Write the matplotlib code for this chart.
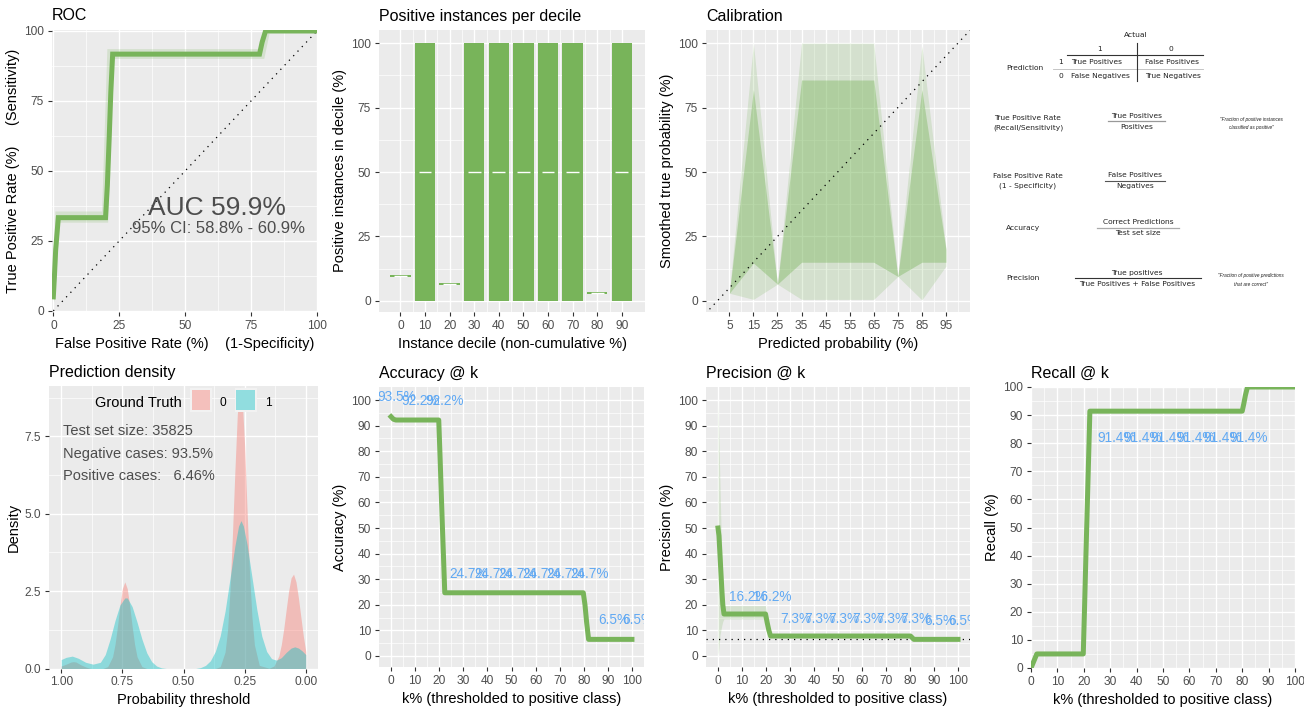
import numpy as np
import matplotlib
matplotlib.use("Agg")
import matplotlib.pyplot as plt
from matplotlib.patches import Rectangle

plt.rcParams['font.family'] = ['Liberation Sans', 'DejaVu Sans']

W, H = 1304, 713
GREEN = '#78B45A'
LABEL_BLUE = '#61A9F3'
PINK = '#F8766D'
CYAN = '#00BFC4'

# ---- data ----
# ROC
roc_fpr = [0, 0.4, 0.9, 1.9, 19.8, 20.5, 21.2, 21.8, 22.5, 78.2, 79.2, 80.5, 100]
roc_tpr = [5, 12, 22, 33.3, 33.3, 45, 62, 78, 91.7, 91.7, 96, 100, 100]
roc_ci_up_fpr = [0, 0.8, 18.5, 20.5, 78.0, 80.0, 100]
roc_ci_up_tpr = [6, 35.5, 35.5, 93.5, 93.5, 100.5, 100.5]
roc_ci_lo_fpr = [0.5, 2.5, 20.8, 22.8, 80.0, 82.0, 100]
roc_ci_lo_tpr = [3, 31.5, 31.5, 90.0, 90.0, 99.0, 99.0]
auc_text = "AUC 59.9%"
auc_ci_text = "95% CI: 58.8% - 60.9%"

# positive instances per decile
deciles = [0, 10, 20, 30, 40, 50, 60, 70, 80, 90]
box_low = [9.3, 0, 6.1, 0, 0, 0, 0, 0, 2.6, 0]
box_high = [10.1, 100, 6.9, 100, 100, 100, 100, 100, 3.4, 100]
box_mid = [9.7, 50, 6.5, 50, 50, 50, 50, 50, 3.0, 50]

# calibration
cal_x = [5, 15, 25, 35, 45, 55, 65, 75, 85, 95]
cal_outer_lo = [3, 0.6, 6.5, 0.6, 0.6, 0.6, 0.6, 9.5, 0.4, 13.5]
cal_outer_hi = [3, 100, 6.5, 100, 100, 100, 100, 9.5, 99, 20.5]
cal_inner_lo = [3, 14.7, 6.5, 15, 15, 15, 15, 9.5, 15, 15]
cal_inner_hi = [3, 82, 6.5, 85.7, 85.7, 85.7, 85.7, 9.5, 82, 20]

# prediction density
dens0_x = [0.00, 0.01, 0.02, 0.03, 0.04, 0.05, 0.06, 0.07, 0.08, 0.09, 0.10, 0.11, 0.13, 0.15,
           0.19, 0.21, 0.22, 0.23, 0.24, 0.25, 0.26, 0.27, 0.28, 0.29, 0.30, 0.31, 0.32, 0.33,
           0.35, 0.37, 0.65, 0.67, 0.69, 0.70, 0.71, 0.72, 0.73, 0.74, 0.75, 0.76, 0.77, 0.78,
           0.79, 0.81, 0.83, 0.88, 0.90, 0.92, 0.94, 0.95, 0.96, 0.98, 1.00]
dens0_y = [0.55, 1.05, 1.66, 2.28, 2.80, 3.05, 2.93, 2.51, 1.91, 1.29, 0.77, 0.41, 0.08, 0.01,
           0.10, 0.76, 1.65, 3.1, 5.1, 7.2, 8.7, 9.1, 8.2, 6.35, 4.3, 2.5, 1.23, 0.53,
           0.06, 0.0, 0.0, 0.06, 0.38, 0.78, 1.36, 2.03, 2.58, 2.8, 2.58, 2.03, 1.36, 0.78,
           0.38, 0.06, 0.0, 0.0, 0.05, 0.12, 0.21, 0.22, 0.21, 0.14, 0.08]
dens1_x = [0.00, 0.015, 0.03, 0.045, 0.06, 0.08, 0.10, 0.12, 0.14, 0.16, 0.18, 0.20, 0.22,
           0.24, 0.255, 0.265, 0.275, 0.29, 0.31, 0.33, 0.35, 0.37, 0.39, 0.41, 0.43, 0.45,
           0.57, 0.59, 0.61, 0.63, 0.65, 0.67, 0.69, 0.71, 0.73, 0.74, 0.76, 0.78, 0.80,
           0.82, 0.84, 0.87, 0.90, 0.93, 0.955, 0.98, 1.00]
dens1_y = [0.45, 0.57, 0.66, 0.70, 0.66, 0.52, 0.35, 0.27, 0.32, 0.55, 1.05, 1.9, 2.95,
           4.0, 4.6, 4.78, 4.6, 3.95, 2.9, 1.85, 1.05, 0.55, 0.25, 0.10, 0.03, 0.0,
           0.0, 0.02, 0.08, 0.22, 0.5, 0.95, 1.5, 2.0, 2.28, 2.28, 2.05, 1.55, 0.95,
           0.45, 0.2, 0.14, 0.2, 0.33, 0.40, 0.36, 0.29]
test_size = 35825
neg_share = 93.5
pos_share = 6.46

# accuracy @ k
acc_k = [0, 0.5, 1, 2, 19.8, 20.3, 20.8, 21.3, 21.8, 22.3, 79.8, 80.5, 81.2, 82, 100]
acc_v = [93.5, 93.0, 92.5, 92.2, 92.2, 79, 65, 51, 38, 24.7, 24.7, 20, 13, 6.5, 6.5]
acc_lab_k = [0, 10, 20, 30, 40, 50, 60, 70, 80, 90, 100]
acc_lab_v = [93.5, 92.2, 92.2, 24.7, 24.7, 24.7, 24.7, 24.7, 24.7, 6.5, 6.5]

# precision @ k
prec_k = [0, 0.4, 0.8, 1.2, 1.6, 2.0, 2.5, 19.8, 20.5, 21.2, 21.9, 80.2, 81.6, 100]
prec_v = [50, 47, 40, 33, 26, 20, 16.4, 16.4, 13, 10, 7.8, 7.8, 6.5, 6.5]
prec_lo = [0, 3, 8, 10, 12, 13.5, 14.5, 14.5, 11.5, 9, 7.3, 7.3, 6.2, 6.2]
prec_hi = [100, 85, 68, 52, 40, 28, 19.7, 19.7, 16, 12, 8.3, 8.3, 6.8, 6.8]
prec_lab_k = [10, 20, 30, 40, 50, 60, 70, 80, 90, 100]
prec_lab_v = [16.2, 16.2, 7.3, 7.3, 7.3, 7.3, 7.3, 7.3, 6.5, 6.5]
prevalence = 6.46

# recall @ k
rec_k = [0, 2.2, 19.8, 20.3, 20.8, 21.3, 21.8, 22.3, 80, 80.6, 81.2, 82, 100]
rec_v = [0, 5, 5, 22, 40, 57, 74, 91.4, 91.4, 94, 97, 100, 100]
rec_lab_k = [30, 40, 50, 60, 70, 80]
rec_lab_v = [91.4, 91.4, 91.4, 91.4, 91.4, 91.4]


fig = plt.figure(figsize=(W / 100, H / 100), dpi=100)
fig.patch.set_facecolor('white')


def panel(l, t, r, b):
    ax = fig.add_axes([l / W, 1 - b / H, (r - l) / W, (b - t) / H])
    ax.set_facecolor('#EBEBEB')
    for s in ax.spines.values():
        s.set_visible(False)
    ax.tick_params(which='major', length=2.7, width=0.8, color='#333333',
                   labelcolor='#4D4D4D', labelsize=8.6, pad=3)
    ax.tick_params(which='minor', length=0)
    ax.grid(which='major', color='white', lw=1.0)
    ax.grid(which='minor', color='white', lw=0.5)
    ax.set_axisbelow(True)
    return ax


def titles(ax, title, xl, yl):
    ax.set_title(title, loc='left', fontsize=11.5, pad=6.5)
    ax.set_xlabel(xl, fontsize=10.5, labelpad=3.5)
    ax.set_ylabel(yl, fontsize=10.5, labelpad=3)


def k_axes(ax):
    ax.set_xticks(range(0, 101, 10))
    ax.set_xticks(range(5, 100, 10), minor=True)
    ax.set_yticks(range(0, 101, 10))
    ax.set_yticks(range(5, 100, 10), minor=True)


def k_labels(ax, ks, vs, dy):
    for k, v in zip(ks, vs):
        ax.text(k + 2.4, v + dy, f"{v:g}%", color=LABEL_BLUE, fontsize=9.8,
                ha='center', va='center', clip_on=True)


# ROC
ax = panel(52, 29.5, 317, 312)
ci_x = roc_ci_up_fpr + roc_ci_lo_fpr[::-1]
ci_y = roc_ci_up_tpr + roc_ci_lo_tpr[::-1]
ax.fill(ci_x, ci_y, color=GREEN, alpha=0.2, lw=0)
ax.plot([0, 100], [0, 100], color='black', lw=0.9, ls=(0, (1, 4)))
ax.plot(roc_fpr, roc_tpr, color=GREEN, lw=3.6, solid_joinstyle='miter')
ax.text(62, 36.8, auc_text, fontsize=19, color='#4D4D4D', ha='center', va='center')
ax.text(62.5, 29.6, auc_ci_text, fontsize=12, color='#4D4D4D', ha='center', va='center')
ax.set_xlim(-0.5, 100)
ax.set_ylim(-0.4, 100.5)
ax.set_xticks([0, 25, 50, 75, 100])
ax.set_xticks([12.5, 37.5, 62.5, 87.5], minor=True)
ax.set_yticks([0, 25, 50, 75, 100])
ax.set_yticks([12.5, 37.5, 62.5, 87.5], minor=True)
titles(ax, "ROC", "False Positive Rate (%)    (1-Specificity)",
       "True Positive Rate (%)     (Sensitivity)")

# positive instances per decile
ax = panel(379, 30, 645, 312)
lows = np.array(box_low)
highs = np.array(box_high)
ax.bar(deciles, highs - lows, bottom=lows, width=8.3, color=GREEN)
ax.hlines(box_mid, np.array(deciles) - 2.6, np.array(deciles) + 2.6, color='white', lw=1)
ax.set_xlim(-8.7, 99.4)
ax.set_ylim(-4.3, 105.1)
ax.set_xticks(deciles)
ax.set_xticks(np.array(deciles[:-1]) + 5, minor=True)
ax.set_yticks([0, 25, 50, 75, 100])
ax.set_yticks([12.5, 37.5, 62.5, 87.5], minor=True)
titles(ax, "Positive instances per decile", "Instance decile (non-cumulative %)",
       "Positive instances in decile (%)")

# calibration
ax = panel(706, 30, 970, 312)
ax.fill_between(cal_x, cal_outer_lo, cal_outer_hi, color=GREEN, alpha=0.2, lw=0)
ax.fill_between(cal_x, cal_inner_lo, cal_inner_hi, color=GREEN, alpha=0.4, lw=0)
ax.plot([-5, 105], [-5, 105], color='black', lw=0.9, ls=(0, (1, 4)))
ax.set_xlim(-4.7, 105)
ax.set_ylim(-4.3, 105.1)
ax.set_xticks(cal_x)
ax.set_xticks(range(0, 101, 10), minor=True)
ax.set_yticks([0, 25, 50, 75, 100])
ax.set_yticks([12.5, 37.5, 62.5, 87.5], minor=True)
titles(ax, "Calibration", "Predicted probability (%)", "Smoothed true probability (%)")

# metric definitions panel (pixel coordinates)
tx = fig.add_axes([980 / W, 1 - 300 / H, 324 / W, 300 / H])
tx.set_xlim(980, 1304)
tx.set_ylim(300, 0)
tx.axis('off')
fs = 5.4
tc = '#222222'
tkw = dict(fontsize=fs, color=tc, family='DejaVu Sans', va='center')
qkw = dict(fontsize=3.4, style='italic', color=tc, va='center', ha='center')
tx.text(1136, 35, "Actual", ha='center', **tkw)
tx.text(1100, 49, "1", ha='center', **tkw)
tx.text(1171, 49, "0", ha='center', **tkw)
tx.text(1025, 68, "Prediction", ha='center', **tkw)
tx.text(1061, 62, "1", ha='center', **tkw)
tx.text(1061, 76, "0", ha='center', **tkw)
tx.text(1071, 62, "True Positives", ha='left', **tkw)
tx.text(1071, 76, "False Negatives", ha='left', **tkw)
tx.text(1145, 62, "False Positives", ha='left', **tkw)
tx.text(1145, 76, "True Negatives", ha='left', **tkw)
tx.plot([1067, 1203], [55, 55], color='#333333', lw=0.8)
tx.plot([1053, 1203], [68.5, 68.5], color='#BBBBBB', lw=0.6)
tx.plot([1137, 1137], [43, 81], color='#333333', lw=0.8)

tx.text(1028, 118, "True Positive Rate", ha='center', **tkw)
tx.text(1028, 127.5, "(Recall/Sensitivity)", ha='center', **tkw)
tx.text(1137, 116.5, "True Positives", ha='center', **tkw)
tx.plot([1108, 1165], [121.3, 121.3], color='#999999', lw=0.9)
tx.text(1137, 127.3, "Positives", ha='center', **tkw)
tx.text(1251, 119, "\"Fraction of positive instances", **qkw)
tx.text(1251, 127, "classified as positive\"", **qkw)

tx.text(1028, 175.5, "False Positive Rate", ha='center', **tkw)
tx.text(1028, 185.5, "(1 - Specificity)", ha='center', **tkw)
tx.text(1135, 174.7, "False Positives", ha='center', **tkw)
tx.plot([1105, 1165], [180.5, 180.5], color='#555555', lw=0.8)
tx.text(1135, 185.7, "Negatives", ha='center', **tkw)

tx.text(1023, 228, "Accuracy", ha='center', **tkw)
tx.text(1138, 222, "Correct Predictions", ha='center', **tkw)
tx.plot([1097, 1179], [227.5, 227.5], color='#AAAAAA', lw=0.9)
tx.text(1138, 233, "Test set size", ha='center', **tkw)

tx.text(1023, 278, "Precision", ha='center', **tkw)
tx.text(1137, 273, "True positives", ha='center', **tkw)
tx.plot([1075, 1201], [278, 278], color='#333333', lw=0.8)
tx.text(1137, 284, "True Positives + False Positives", ha='center', **tkw)
tx.text(1251, 276, "\"Fraction of positive predictions", **qkw)
tx.text(1251, 284, "that are correct\"", **qkw)

# prediction density
ax = panel(49, 386, 318, 668.5)
ax.fill_between(dens0_x, 0, dens0_y, color=PINK, alpha=0.4, lw=0)
ax.fill_between(dens1_x, 0, dens1_y, color=CYAN, alpha=0.4, lw=0)
ax.set_xlim(1.05, -0.05)
ax.set_ylim(0, 9.13)
ax.set_xticks([1.0, 0.75, 0.5, 0.25, 0.0])
ax.set_xticklabels(['1.00', '0.75', '0.50', '0.25', '0.00'])
ax.set_xticks([0.875, 0.625, 0.375, 0.125], minor=True)
ax.set_yticks([0, 2.5, 5.0, 7.5])
ax.set_yticklabels(['0.0', '2.5', '5.0', '7.5'])
ax.set_yticks([1.25, 3.75, 6.25, 8.75], minor=True)
titles(ax, "Prediction density", "Probability threshold", "Density")
ax.text(0.494, 0.941, "Ground Truth", transform=ax.transAxes, fontsize=10.5,
        ha='right', va='center')
for x0, col, lab in [(0.524, PINK, "0"), (0.691, CYAN, "1")]:
    ax.add_patch(Rectangle((x0, 0.908), 0.082, 0.085, transform=ax.transAxes,
                           facecolor='#F2F2F2', edgecolor='none', zorder=3))
    ax.add_patch(Rectangle((x0 + 0.006, 0.914), 0.070, 0.073, transform=ax.transAxes,
                           facecolor=col, alpha=0.4, edgecolor='none', zorder=4))
    ax.text(x0 + 0.123, 0.941, lab, transform=ax.transAxes, fontsize=8.6,
            ha='center', va='center')
stats = [f"Test set size: {test_size}",
         f"Negative cases: {neg_share}%",
         f"Positive cases:   {pos_share}%"]
for i, s in enumerate(stats):
    ax.text(0.052, 0.84 - i * 0.08, s, transform=ax.transAxes, fontsize=10.5,
            color='#4D4D4D', ha='left', va='center')

# accuracy @ k
ax = panel(379, 387, 644, 667)
ax.plot(acc_k, acc_v, color=GREEN, lw=3.6)
k_labels(ax, acc_lab_k, acc_lab_v, 7.5)
ax.set_xlim(-5, 105)
ax.set_ylim(-4.3, 105.1)
k_axes(ax)
titles(ax, "Accuracy @ k", "k% (thresholded to positive class)", "Accuracy (%)")

# precision @ k
ax = panel(706, 387, 970, 667)
ax.fill_between(prec_k, prec_lo, prec_hi, color=GREEN, alpha=0.2, lw=0)
ax.axhline(prevalence, color='black', lw=0.9, ls=(0, (1, 4)))
ax.plot(prec_k, prec_v, color=GREEN, lw=3.6)
k_labels(ax, prec_lab_k, prec_lab_v, 7.0)
ax.set_xlim(-5, 105)
ax.set_ylim(-4.3, 105.1)
k_axes(ax)
titles(ax, "Precision @ k", "k% (thresholded to positive class)", "Precision (%)")

# recall @ k
ax = panel(1031, 387, 1295, 668)
ax.plot(rec_k, rec_v, color=GREEN, lw=3.6)
k_labels(ax, rec_lab_k, rec_lab_v, -9.4)
ax.set_xlim(0, 100)
ax.set_ylim(0, 100)
k_axes(ax)
titles(ax, "Recall @ k", "k% (thresholded to positive class)", "Recall (%)")

fig.savefig("out.png", dpi=100)
